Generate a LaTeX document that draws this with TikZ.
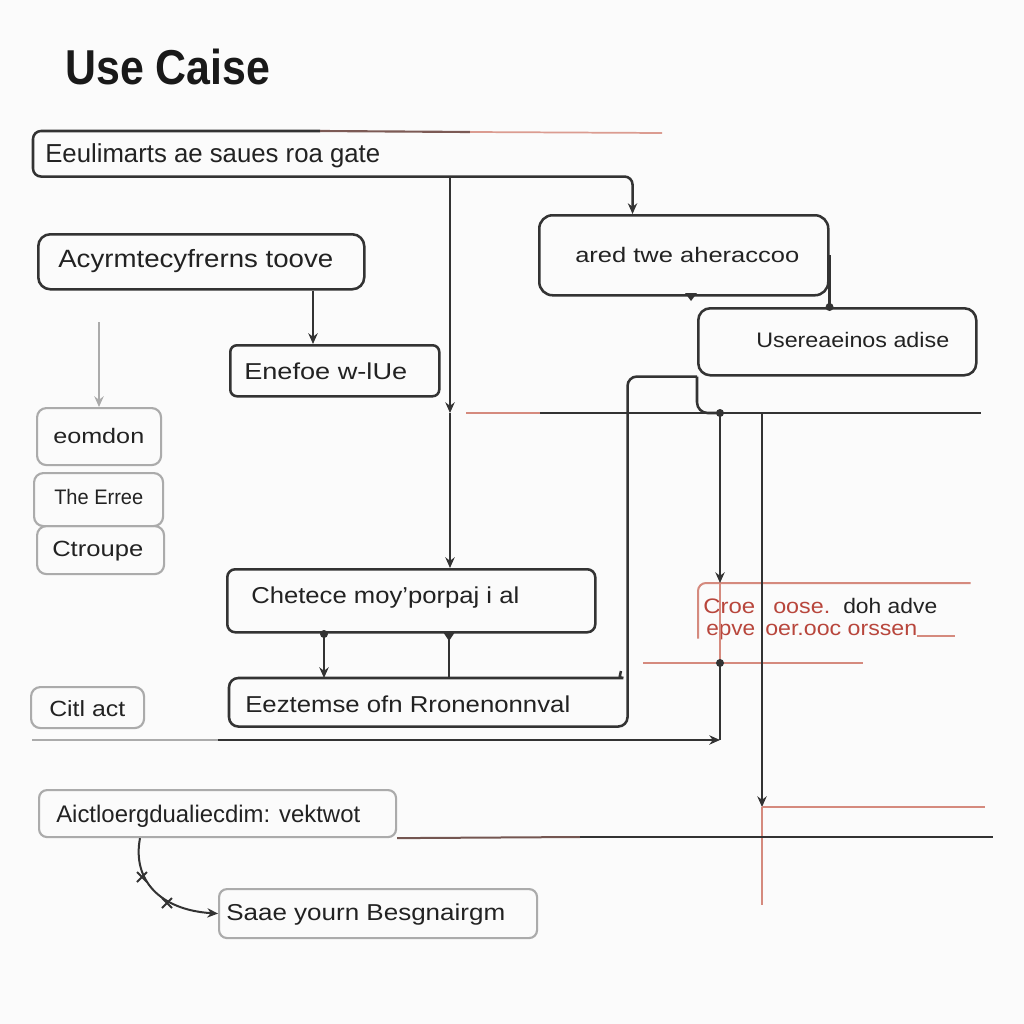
\documentclass[tikz,border=0pt]{standalone}
\usepackage{fontspec}
\setmainfont{Liberation Sans}
\usepackage{graphicx}
\usetikzlibrary{arrows.meta}
\newdimen\pxu \pxu=0.75pt
\definecolor{lc}{HTML}{333333}
\definecolor{tc}{HTML}{222222}
\definecolor{gc}{HTML}{ABABAB}
\definecolor{rc}{HTML}{B8463C}
\definecolor{rl}{HTML}{D58A7E}
\definecolor{bg}{HTML}{FBFBFB}
\newcommand{\tf}[3]{\fontsize{#1}{#1}\selectfont\resizebox{#2\pxu}{\height}{#3}}
\begin{document}
\begin{tikzpicture}[x=0.75pt,y=-0.75pt,
  ln/.style={draw=lc,line width=1.9pt},
  bx/.style={draw=lc,line width=1.9pt,rounded corners=7pt,inner sep=0pt,anchor=north west},
  gbx/.style={bx,draw=gc,line width=1.6pt},
  hid/.style={inner sep=0pt,anchor=north west},
  tx/.style={anchor=base west,inner sep=0pt,text=tc},
  arr/.style={-{Stealth[length=8pt,width=7pt]}}]
\fill[bg] (0,0) rectangle (1024,1024);
\useasboundingbox (0,0) rectangle (1024,1024);

% title
\node[tx,text=black!90] (title) at (65,85) {\fontsize{36.75}{40}\selectfont\bfseries\resizebox{205\pxu}{\height}{Use Caise}};

% box A
\node[hid,minimum width=599\pxu,minimum height=45\pxu] (A) at (33,131) {};
\node[tx] (tA) at (45,162) {\tf{19.5}{335}{Eeulimarts ae saues roa gate}};
\node[bx,minimum width=289\pxu,minimum height=80\pxu,rounded corners=10pt] (B) at (538,214) {};
\node[tx] (tB) at (575,262) {\tf{15.75}{224}{ared twe aheraccoo}};
\draw[ln,arr,rounded corners=6pt] (320,131) -- (A.north west) -- (A.south west) -- (A.south east) -- (A.east |- B.north);
\draw[line width=1.6pt,lc!55!rl] (320,131) -- (470,132);
\draw[line width=1.3pt,rl!85] (470,132) -- (662,133);

% box D and E
\node[bx,minimum width=326\pxu,minimum height=55\pxu,rounded corners=9pt] (D) at (37,233) {};
\node[tx] (tD) at (58,267) {\tf{18.75}{275}{Acyrmtecyfrerns toove}};
\node[bx,minimum width=209\pxu,minimum height=51\pxu,rounded corners=5pt] (E) at (229,344) {};
\node[tx] (tE) at (244,379) {\tf{17.25}{163}{Enefoe w-lUe}};
\coordinate (c313) at (313,300);
\draw[ln,arr] (D.south -| c313) -- (E.north -| c313);

% B stub
\fill[lc] (685,293) -- (697,293) -- (691,301) -- cycle;

% box C
\node[bx,minimum width=278\pxu,minimum height=67\pxu,rounded corners=9pt] (C) at (697,307) {};
\node[tx] (tC) at (756,347) {\tf{15.75}{193}{Usereaeinos adise}};
\draw[ln] (B.east) -- (B.east |- C.north);
\fill[lc] (B.east |- C.north) circle (3pt);

% horizontal y=413
\coordinate (h1) at (466,413);
\coordinate (h2) at (981,413);
\draw[line width=1.6pt,rl] (h1) -- (540,413);
\draw[ln] (540,413) -- (h2);

% C left extension
\coordinate (v720) at (720,413);
\draw[ln,rounded corners=8pt] (C.south west) -- (C.south west |- v720) -- (v720);
\fill[lc] (v720) circle (3pt);

% box H and I
\node[bx,minimum width=368\pxu,minimum height=63\pxu,rounded corners=6pt] (H) at (226,568) {};
\node[tx] (tH) at (251,603) {\tf{17.25}{268}{Chetece moy'porpaj i al}};
\node[hid,minimum width=398\pxu,minimum height=48\pxu] (I) at (229,678) {};
\node[tx] (tI) at (245,712) {\tf{17.25}{325}{Eeztemse ofn Rronenonnval}};
\draw[ln,rounded corners=7pt] (C.south west) -- (C.south west -| I.east) -- (I.south east) -- (I.south west) -- (I.north west) -- (614,678) to[out=0,in=-100] (621,671);

% vertical x=450
\coordinate (m1) at (450,413);
\draw[ln,arr] (A.south -| m1) -- (m1);
\draw[ln,arr] (m1) -- (H.north -| m1);

% H -> I
\coordinate (c324) at (324,650);
\coordinate (c449) at (449,650);
\draw[ln,arr] (H.south -| c324) -- (I.north -| c324);
\draw[ln] (H.south -| c449) -- (I.north -| c449);
\fill[lc] (324,634) circle (3pt);
\fill[lc] (443,632) -- (455,632) -- (449,641) -- cycle;

% red box
\node[hid,minimum width=272\pxu,minimum height=55\pxu] (R) at (698,583) {};
\draw[line width=1.5pt,rl,rounded corners=6pt] (R.north east) -- (R.north west) -- (R.south west);
\node[tx,text=rc] (r1a) at (703,613) {\tf{15.75}{52}{Croe}};
\node[tx,text=rc] (r1b) at (773,613) {\tf{15.75}{57}{oose.}};
\node[tx] (r1c) at (843,613) {\tf{15.75}{94}{doh adve}};
\node[tx,text=rc] (r2a) at (706,635) {\tf{15.75}{49}{epve}};
\node[tx,text=rc] (r2b) at (765,635) {\tf{15.75}{152}{oer.ooc orssen}};
\draw[line width=1.1pt,rl] (917,636) -- (955,636);

% vertical x=720 chain
\draw[ln,arr] (v720) -- (v720 |- R.north);
\coordinate (r663) at (720,663);
\draw[line width=1.6pt,rl] (v720 |- R.north) -- (r663);
\draw[line width=1.5pt,rl] (643,663) -- (863,663);
\fill[lc] (r663) circle (3pt);
\coordinate (b740) at (720,740);
\draw[ln] (r663) -- (b740);
\coordinate (hb0) at (32,740);
\draw[line width=1.5pt,gc] (hb0) -- (218,740);
\draw[ln,arr] (218,740) -- (b740);

% vertical x=762
\coordinate (v762) at (762,413);
\coordinate (v807) at (762,807);
\draw[ln,arr] (v762) -- (v807);
\draw[line width=1.5pt,rl] (v807) -- (762,905);
\draw[line width=1.5pt,rl] (v807) -- (985,807);

% gray boxes
\coordinate (g0) at (99,322);
\node[gbx,minimum width=124\pxu,minimum height=57\pxu] (G1) at (36,407) {};
\node[tx] (tG1) at (53,443) {\tf{15.75}{91}{eomdon}};
\draw[gc,line width=1.4pt,arr] (g0) -- (G1.north -| g0);
\node[gbx,minimum width=129\pxu,minimum height=53\pxu] (G2) at (33,472) {};
\node[tx] (tG2) at (54,504) {\tf{15.75}{89}{The Erree}};
\node[gbx,minimum width=127\pxu,minimum height=48\pxu] (G3) at (36,525) {};
\node[tx] (tG3) at (52,556) {\tf{16.5}{91}{Ctroupe}};
\node[gbx,minimum width=113\pxu,minimum height=41\pxu] (G4) at (30,686) {};
\node[tx] (tG4) at (49,716) {\tf{16.5}{76}{Citl act}};

% J and K
\node[gbx,minimum width=357\pxu,minimum height=47\pxu,rounded corners=6pt] (J) at (38,789) {};
\node[tx] (tJ) at (56,822) {\tf{18}{304}{Aictloergdualiecdim: vektwot}};
\draw[line width=1.5pt,lc!60!rl] (J.south east) -- (580,837);
\draw[ln] (580,837) -- (993,837);
\node[gbx,minimum width=318\pxu,minimum height=49\pxu,rounded corners=6pt] (K) at (218,888) {};
\node[tx] (tK) at (226,920) {\tf{17.25}{279}{Saae yourn Besgnairgm}};
\coordinate (c140) at (140,800);
\draw[draw=lc,line width=1.5pt,arr] (J.south -| c140) .. controls (132,880) and (160,910) .. (K.west);
\draw[lc,line width=1.4pt] (137,872) -- (147,882) (137,882) -- (147,872);
\draw[lc,line width=1.4pt] (162,898) -- (172,908) (162,908) -- (172,898);
\end{tikzpicture}
\end{document}
